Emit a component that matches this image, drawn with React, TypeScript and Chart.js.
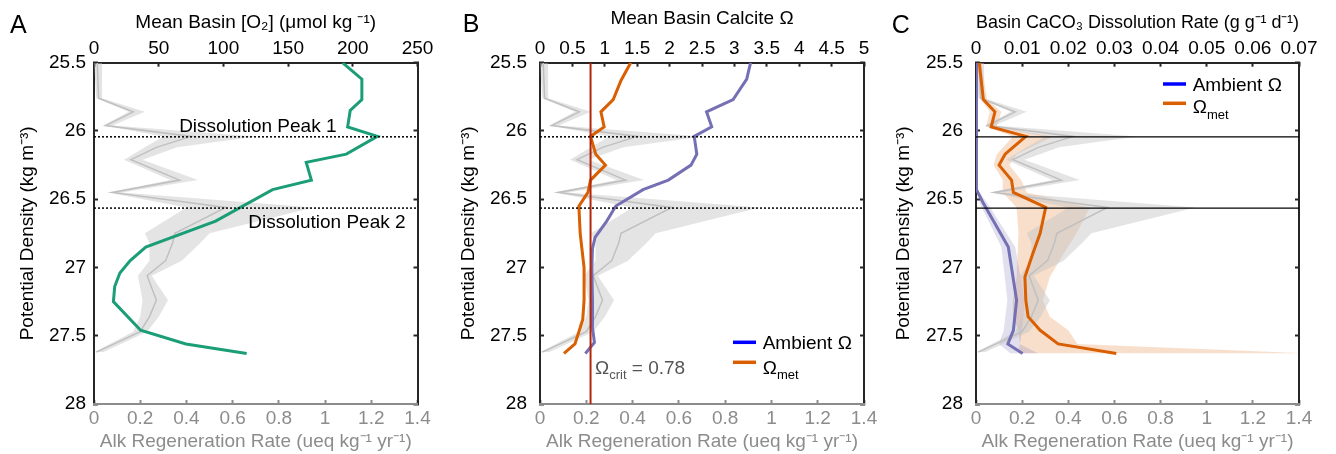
import React, { useEffect, useRef } from 'react';
import { Chart, registerables } from 'chart.js';

Chart.register(...registerables);

const FONT = '"Liberation Sans", Arial, Helvetica, sans-serif';
const AXIS = '#262626';
const GRAY_TXT = '#8c8c8c';

// ---------- shared: density axis / peaks ----------
const densMin = 25.5;
const densMax = 28;
const peakDens = [26.043, 26.565];

// ---------- shared: Alk regeneration rate (gray, bottom axis) ----------
const grayDens = [25.5, 25.76, 25.86, 25.96, 26.04, 26.12, 26.21, 26.36, 26.45, 26.56, 26.75, 26.82, 26.95, 27.06, 27.24, 27.36, 27.47, 27.62];
const grayMean = [0.014, 0.02, 0.17, 0.05, 0.42, 0.27, 0.16, 0.37, 0.08, 0.57, 0.35, 0.34, 0.31, 0.23, 0.27, 0.24, 0.2, 0.01];
const grayLo = [0.0, 0.01, 0.15, 0.04, 0.3, 0.22, 0.13, 0.33, 0.06, 0.4, 0.22, 0.24, 0.24, 0.19, 0.21, 0.2, 0.17, 0.0];
const grayHi = [0.035, 0.035, 0.22, 0.08, 0.7, 0.36, 0.21, 0.45, 0.12, 0.95, 0.5, 0.46, 0.38, 0.25, 0.32, 0.28, 0.23, 0.04];

// ---------- panel A: O2 ----------
const o2Dens = [25.5, 25.62, 25.77, 25.85, 25.97, 26.04, 26.17, 26.23, 26.36, 26.43, 26.66, 26.85, 26.95, 27.04, 27.14, 27.25, 27.46, 27.56, 27.63];
const o2Vals = [192, 207, 207, 198, 196, 219, 195, 164, 168, 138, 94, 40, 28, 20, 16, 15, 36, 71, 118];

// ---------- panel B: calcite omega ----------
const ambDens = [25.5, 25.62, 25.77, 25.86, 25.97, 26.04, 26.17, 26.25, 26.36, 26.43, 26.55, 26.66, 26.78, 26.86, 27.0, 27.24, 27.44, 27.55, 27.63];
const ambVals = [3.25, 3.19, 2.98, 2.57, 2.65, 2.38, 2.42, 2.33, 1.98, 1.59, 1.17, 1.03, 0.85, 0.81, 0.8, 0.81, 0.81, 0.84, 0.7];
const metDens = [25.5, 25.63, 25.77, 25.86, 25.97, 26.04, 26.17, 26.25, 26.36, 26.45, 26.55, 26.75, 27.0, 27.24, 27.38, 27.56, 27.63];
const metVals = [1.4, 1.25, 1.13, 0.94, 0.99, 0.78, 0.86, 1.01, 0.78, 0.74, 0.6, 0.62, 0.68, 0.68, 0.66, 0.54, 0.37];
const omegaCrit = 0.78;

// ---------- panel C: CaCO3 dissolution rate ----------
const dissAmbDens = [25.5, 26.43, 26.53, 26.85, 27.24, 27.46, 27.56, 27.63];
const dissAmbVals = [0.0001, 0.0001, 0.0016, 0.007, 0.0088, 0.0081, 0.0069, 0.0101];
const dissAmbLo = [0.0, 0.0, 0.0008, 0.0055, 0.0068, 0.006, 0.005, 0.0075];
const dissAmbHi = [0.0003, 0.0003, 0.0025, 0.0085, 0.0105, 0.01, 0.0095, 0.0135];
const dissMetDens = [25.5, 25.77, 25.86, 25.97, 26.04, 26.17, 26.25, 26.36, 26.45, 26.56, 26.75, 26.9, 27.07, 27.24, 27.36, 27.46, 27.56, 27.63];
const dissMetVals = [0.0007, 0.0016, 0.0041, 0.0033, 0.0108, 0.0063, 0.005, 0.0077, 0.0081, 0.0151, 0.0139, 0.0123, 0.0106, 0.0108, 0.0113, 0.0139, 0.0178, 0.0304];
const dissMetLo = [0.0003, 0.001, 0.003, 0.0022, 0.008, 0.0045, 0.0038, 0.0058, 0.0058, 0.0088, 0.0092, 0.009, 0.0088, 0.008, 0.008, 0.0092, 0.0095, 0.0092];
const dissMetHi = [0.0012, 0.0024, 0.0055, 0.0045, 0.0167, 0.0088, 0.0072, 0.0098, 0.011, 0.0247, 0.0218, 0.019, 0.016, 0.0145, 0.016, 0.02, 0.022, 0.072];

// ---------- colours ----------
const GREEN = '#1b9e77';
const ORANGE = '#d95f02';
const PURPLE = '#7570b3';
const CRIT_RED = '#b3260a';
const GRAY_LINE = 'rgb(192,192,192)';
const GRAY_BAND = 'rgba(195,195,195,0.45)';

const pts = (dens: number[], vals: number[]) => dens.map((d, i) => ({ x: vals[i], y: d }));

function lineDs(label: string, dens: number[], vals: number[], xAxisID: string, color: string, width: number, order: number, extra: any = {}) {
  return {
    label,
    data: pts(dens, vals),
    xAxisID,
    yAxisID: 'y',
    borderColor: color,
    backgroundColor: color,
    borderWidth: width,
    pointRadius: 0,
    fill: false,
    tension: 0,
    order,
    ...extra,
  };
}

function bandDs(label: string, dens: number[], lo: number[], hi: number[], xAxisID: string, color: string, order: number) {
  return [
    lineDs(label + ' lo', dens, lo, xAxisID, 'rgba(0,0,0,0)', 0, order, { fill: '+1', backgroundColor: color }),
    lineDs(label + ' hi', dens, hi, xAxisID, 'rgba(0,0,0,0)', 0, order),
  ];
}

function hLineDs(label: string, d: number, xMin: number, xMax: number, dash: number[], width: number, order: number) {
  return lineDs(label, [d, d], [xMin, xMax], 'x', '#000', width, order, { borderDash: dash });
}

const fmt = (v: any) => String(+Number(v).toFixed(3));

type Layout = { leftW: number; rightW: number; topH: number; bottomH: number; yTickPad: number; yTitlePad: number; topTitlePad: number; topAlign?: string };

function makeScales(L: Layout, top: { min: number; max: number; step: number; title: string }) {
  const font = { family: FONT, size: 19 };
  const inGrid = { drawOnChartArea: false, drawTicks: true, tickLength: -4, tickWidth: 2, tickColor: AXIS };
  const border = { display: true, color: AXIS, width: 2 };
  return {
    y: {
      type: 'linear', position: 'left', reverse: true, min: densMin, max: densMax,
      ticks: { stepSize: 0.5, color: '#000', font, padding: L.yTickPad, callback: fmt },
      grid: inGrid, border,
      title: { display: true, text: 'Potential Density (kg m⁻³)', color: '#000', font, padding: { top: L.yTitlePad, bottom: 0 } },
      afterFit: (s: any) => { s.width = L.leftW; },
    },
    y2: {
      type: 'linear', position: 'right', reverse: true, min: densMin, max: densMax,
      ticks: { stepSize: 0.5, display: false },
      grid: inGrid, border,
      afterFit: (s: any) => { s.width = L.rightW; },
    },
    xt: {
      type: 'linear', position: 'top', min: top.min, max: top.max,
      ticks: { stepSize: top.step, color: '#000', font, padding: 7, maxRotation: 0, autoSkip: false, callback: fmt },
      grid: inGrid, border,
      title: { display: true, text: top.title, color: '#000', font, align: L.topAlign || 'center', padding: { top: L.topTitlePad, bottom: 0 } },
      afterFit: (s: any) => { s.height = L.topH; },
    },
    x: {
      type: 'linear', position: 'bottom', min: 0, max: 1.4,
      ticks: { stepSize: 0.2, color: GRAY_TXT, font, padding: 7.3, maxRotation: 0, autoSkip: false, callback: fmt },
      grid: { drawOnChartArea: false, drawTicks: true, tickLength: -4, tickWidth: 2, tickColor: GRAY_TXT },
      border: { display: true, color: GRAY_TXT, width: 2 },
      title: { display: true, text: 'Alk Regeneration Rate (ueq kg⁻¹ yr⁻¹)', color: GRAY_TXT, font, padding: { top: 0, bottom: 0.9 } },
      afterFit: (s: any) => { s.height = L.bottomH; },
    },
  };
}

type Part = { t: string; size: number; dy: number };
function richText(ctx: CanvasRenderingContext2D, x: number, y: number, parts: Part[], color: string) {
  ctx.fillStyle = color;
  ctx.textBaseline = 'alphabetic';
  ctx.textAlign = 'left';
  let cx = x;
  for (const p of parts) {
    ctx.font = `${p.size}px ${FONT}`;
    ctx.fillText(p.t, cx, y + p.dy);
    cx += ctx.measureText(p.t).width;
  }
}

function drawLegend(chart: any, ctx: CanvasRenderingContext2D, dxLine: number, dxText: number, rows: { color: string; lineDy: number; baseDy: number; parts: Part[] }[]) {
  const { right, top } = chart.chartArea;
  for (const r of rows) {
    ctx.strokeStyle = r.color;
    ctx.lineWidth = 3.5;
    ctx.beginPath();
    ctx.moveTo(right - dxLine, top + r.lineDy);
    ctx.lineTo(right - dxLine + 23, top + r.lineDy);
    ctx.stroke();
    richText(ctx, right - dxText, top + r.baseDy, r.parts, '#000');
  }
}

function panelLetter(ctx: CanvasRenderingContext2D, letter: string, x: number, y: number) {
  ctx.fillStyle = '#000';
  ctx.font = `25px ${FONT}`;
  ctx.textAlign = 'left';
  ctx.textBaseline = 'alphabetic';
  ctx.fillText(letter, x, y);
}

function annot(draw: (chart: any, ctx: CanvasRenderingContext2D) => void) {
  return {
    id: 'annot',
    afterDraw(chart: any) {
      const ctx = chart.ctx;
      ctx.save();
      draw(chart, ctx);
      ctx.restore();
    },
  };
}

function baseOptions(scales: any) {
  return {
    responsive: false,
    animation: false,
    devicePixelRatio: 1,
    indexAxis: 'y',
    layout: { padding: 0 },
    scales,
    plugins: { legend: { display: false }, tooltip: { enabled: false } },
    elements: { point: { radius: 0 }, line: { tension: 0 } },
  };
}

const grayLayers = () => [
  ...bandDs('Alk band', grayDens, grayLo, grayHi, 'x', GRAY_BAND, 20),
  lineDs('Alk regeneration', grayDens, grayMean, 'x', GRAY_LINE, 1.5, 15),
];

function configA() {
  const L: Layout = { leftW: 94, rightW: 32.5, topH: 62.7, bottomH: 50, yTickPad: 12, yTitlePad: 16.6, topTitlePad: 11.3 };
  return {
    type: 'line',
    data: {
      datasets: [
        ...grayLayers(),
        lineDs('O2', o2Dens, o2Vals, 'xt', GREEN, 3, 5),
        hLineDs('Peak 1', peakDens[0], 0, 1.4, [2, 2], 1.5, 2),
        hLineDs('Peak 2', peakDens[1], 0, 1.4, [2, 2], 1.5, 2),
      ],
    },
    options: baseOptions(makeScales(L, { min: 0, max: 250, step: 50, title: 'Mean Basin [O₂] (μmol kg ⁻¹)' })),
    plugins: [
      annot((chart, ctx) => {
        panelLetter(ctx, 'A', 10, 33);
        const x = chart.scales.x;
        const y = chart.scales.y;
        ctx.fillStyle = '#000';
        ctx.font = `19px ${FONT}`;
        ctx.textAlign = 'center';
        ctx.textBaseline = 'alphabetic';
        ctx.fillText('Dissolution Peak 1', x.getPixelForValue(0.709), y.getPixelForValue(26.005));
        ctx.fillText('Dissolution Peak 2', x.getPixelForValue(1.008), y.getPixelForValue(26.709));
      }),
    ],
  };
}

function configB() {
  const L: Layout = { leftW: 90, rightW: 21, topH: 62.7, bottomH: 50, yTickPad: 17, yTitlePad: 7.6, topTitlePad: 6.9 };
  return {
    type: 'line',
    data: {
      datasets: [
        ...grayLayers(),
        lineDs('Ambient Ω', ambDens, ambVals, 'xt', PURPLE, 3, 6),
        lineDs('Ω met', metDens, metVals, 'xt', ORANGE, 3, 5),
        lineDs('Ω crit', [densMin, densMax], [omegaCrit, omegaCrit], 'xt', CRIT_RED, 2, 1),
        hLineDs('Peak 1', peakDens[0], 0, 1.4, [2, 2], 1.5, 2),
        hLineDs('Peak 2', peakDens[1], 0, 1.4, [2, 2], 1.5, 2),
      ],
    },
    options: baseOptions(makeScales(L, { min: 0, max: 5, step: 0.5, title: 'Mean Basin Calcite Ω' })),
    plugins: [
      annot((chart, ctx) => {
        panelLetter(ctx, 'B', 12.7, 32);
        const xt = chart.scales.xt;
        const y = chart.scales.y;
        richText(ctx, xt.getPixelForValue(0.849), y.getPixelForValue(27.777), [
          { t: 'Ω', size: 19, dy: 0 },
          { t: 'crit', size: 13, dy: 5 },
          { t: ' = 0.78', size: 19, dy: 0 },
        ], '#555');
        drawLegend(chart, ctx, 131, 101.3, [
          { color: '#0000ff', lineDy: 279.6, baseDy: 286.6, parts: [{ t: 'Ambient Ω', size: 19, dy: 0 }] },
          { color: ORANGE, lineDy: 299.6, baseDy: 311.3, parts: [{ t: 'Ω', size: 19, dy: 0 }, { t: 'met', size: 13, dy: 5 }] },
        ]);
      }),
    ],
  };
}

function configC() {
  const L: Layout = { leftW: 91, rightW: 37, topH: 62.7, bottomH: 50, yTickPad: 17, yTitlePad: 7.6, topTitlePad: 11.3, topAlign: 'start' };
  return {
    type: 'line',
    data: {
      datasets: [
        ...grayLayers(),
        ...bandDs('Ω met band', dissMetDens, dissMetLo, dissMetHi, 'xt', 'rgba(217,95,2,0.2)', 22),
        ...bandDs('Ambient band', dissAmbDens, dissAmbLo, dissAmbHi, 'xt', 'rgba(117,112,179,0.22)', 21),
        lineDs('Ambient Ω', dissAmbDens, dissAmbVals, 'xt', PURPLE, 3, 6),
        lineDs('Ω met', dissMetDens, dissMetVals, 'xt', ORANGE, 3, 5),
        hLineDs('Peak 1', peakDens[0], 0, 1.4, [], 1.2, 2),
        hLineDs('Peak 2', peakDens[1], 0, 1.4, [], 1.2, 2),
      ],
    },
    options: baseOptions(makeScales(L, { min: 0, max: 0.07, step: 0.01, title: 'Basin CaCO₃ Dissolution Rate (g g⁻¹ d⁻¹)' })),
    plugins: [
      annot((chart, ctx) => {
        panelLetter(ctx, 'C', 6.7, 33);
        drawLegend(chart, ctx, 136, 106.3, [
          { color: '#0000ff', lineDy: 21.3, baseDy: 28, parts: [{ t: 'Ambient Ω', size: 19, dy: 0 }] },
          { color: ORANGE, lineDy: 40.6, baseDy: 50.6, parts: [{ t: 'Ω', size: 19, dy: 0 }, { t: 'met', size: 13, dy: 6 }] },
        ]);
      }),
    ],
  };
}

function Panel({ left, width, build }: { left: number; width: number; build: () => any }) {
  const ref = useRef<HTMLCanvasElement>(null);
  useEffect(() => {
    const chart = new Chart(ref.current as HTMLCanvasElement, build() as any);
    return () => chart.destroy();
  }, []);
  return (
    <canvas
      ref={ref}
      width={width}
      height={454}
      style={{ position: 'absolute', left, top: 0, width, height: 454 }}
    />
  );
}

export default function App() {
  return (
    <div style={{ position: 'absolute', left: 0, top: 0, width: 1336, height: 454, background: '#fff', overflow: 'hidden' }}>
      <Panel left={0} width={450} build={configA} />
      <Panel left={450} width={435} build={configB} />
      <Panel left={885} width={451} build={configC} />
    </div>
  );
}
